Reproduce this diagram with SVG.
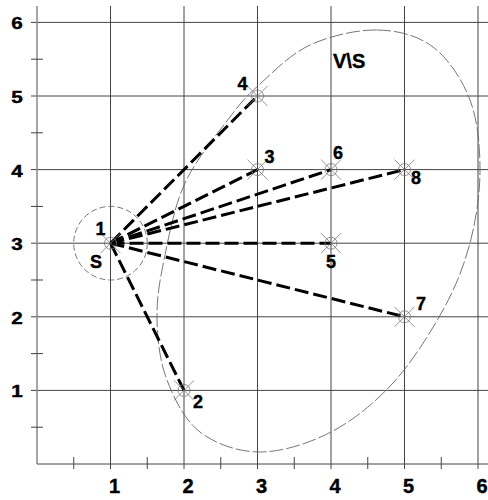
<svg xmlns="http://www.w3.org/2000/svg" xmlns:xlink="http://www.w3.org/1999/xlink" width="488" height="500" viewBox="0 0 488 500">
<style>
.grid{stroke:#444;stroke-width:1;fill:none}
.axis{stroke:#888;stroke-width:1.5;fill:none}
.mk{stroke:#777;stroke-width:0.8;fill:none}
.edge{stroke:#000;stroke-width:3;stroke-dasharray:14 5;fill:none}
.thin{stroke:#666;stroke-width:0.9;fill:none}
.lbl{font-family:"Liberation Sans",Arial,sans-serif;font-weight:bold;font-size:18px;fill:#000;stroke:#000;stroke-width:0.4}
.ax{font-family:"Liberation Sans",Arial,sans-serif;font-weight:bold;font-size:20px;fill:#000;stroke:#000;stroke-width:0.4}
.ay{font-family:"Liberation Sans",Arial,sans-serif;font-weight:bold;font-size:16.5px;fill:#000;stroke:#000;stroke-width:0.4}
</style>
<defs>
<g id="m" class="mk"><circle cx="0" cy="0" r="6"/><line x1="-10" y1="-10" x2="10" y2="10"/><line x1="-10" y1="10" x2="10" y2="-10"/></g>
</defs>
<rect width="488" height="500" fill="#fff"/>
<g id="grid">
<line class="grid" x1="31" y1="22.4" x2="488" y2="22.4"/>
<line class="grid" x1="31" y1="96" x2="488" y2="96"/>
<line class="grid" x1="31" y1="169.6" x2="488" y2="169.6"/>
<line class="grid" x1="31" y1="243.2" x2="488" y2="243.2"/>
<line class="grid" x1="31" y1="316.8" x2="488" y2="316.8"/>
<line class="grid" x1="31" y1="390.4" x2="488" y2="390.4"/>
<line class="grid" x1="110.5" y1="6" x2="110.5" y2="469"/>
<line class="grid" x1="184" y1="6" x2="184" y2="469"/>
<line class="grid" x1="257.5" y1="6" x2="257.5" y2="469"/>
<line class="grid" x1="331" y1="6" x2="331" y2="469"/>
<line class="grid" x1="404.5" y1="6" x2="404.5" y2="469"/>
<line class="grid" x1="478" y1="6" x2="478" y2="469"/>
<line class="axis" x1="37" y1="6" x2="37" y2="464"/>
<line class="grid" x1="37" y1="464" x2="488" y2="464"/>
<line class="grid" x1="73.75" y1="457" x2="73.75" y2="469"/>
<line class="grid" x1="147.25" y1="457" x2="147.25" y2="469"/>
<line class="grid" x1="220.75" y1="457" x2="220.75" y2="469"/>
<line class="grid" x1="294.25" y1="457" x2="294.25" y2="469"/>
<line class="grid" x1="367.75" y1="457" x2="367.75" y2="469"/>
<line class="grid" x1="441.25" y1="457" x2="441.25" y2="469"/>
<line class="grid" x1="31" y1="427.2" x2="43" y2="427.2"/>
<line class="grid" x1="31" y1="353.6" x2="43" y2="353.6"/>
<line class="grid" x1="31" y1="280" x2="43" y2="280"/>
<line class="grid" x1="31" y1="206.4" x2="43" y2="206.4"/>
<line class="grid" x1="31" y1="132.8" x2="43" y2="132.8"/>
<line class="grid" x1="31" y1="59.2" x2="43" y2="59.2"/>
</g>
<g id="axis-labels">
<text class="ax" x="114.5" y="493" text-anchor="middle">1</text>
<text class="ax" x="188" y="493" text-anchor="middle">2</text>
<text class="ax" x="261.5" y="493" text-anchor="middle">3</text>
<text class="ax" x="335" y="493" text-anchor="middle">4</text>
<text class="ax" x="408.5" y="493" text-anchor="middle">5</text>
<text class="ax" x="482" y="493" text-anchor="middle">6</text>
<text class="ay" transform="translate(17,397.4) scale(1.25,1)" text-anchor="middle">1</text>
<text class="ay" transform="translate(17,323.8) scale(1.25,1)" text-anchor="middle">2</text>
<text class="ay" transform="translate(17,250.2) scale(1.25,1)" text-anchor="middle">3</text>
<text class="ay" transform="translate(17,176.6) scale(1.25,1)" text-anchor="middle">4</text>
<text class="ay" transform="translate(17,103) scale(1.25,1)" text-anchor="middle">5</text>
<text class="ay" transform="translate(17,29.4) scale(1.25,1)" text-anchor="middle">6</text>
</g>
<g id="S">
<circle class="thin" cx="110.5" cy="243.2" r="36.8" stroke-dasharray="6 3"/>
<text class="lbl" x="96" y="268" text-anchor="middle">S</text>
</g>
<g id="VminusS">
<path class="thin" stroke-dasharray="14 3" d="M377,30 C397.5,30.3 417.5,35.3 433,47 C448.5,58.7 462.2,79.5 470,100 C477.8,120.5 480,146.2 480,170 C480,193.8 476.2,219.7 470,243 C463.8,266.3 455.8,286.7 443,310 C430.2,333.3 411.7,362.7 393,383 C374.3,403.3 353.2,420.5 331,432 C308.8,443.5 281.8,452 260,452 C238.2,452 215.5,444 200,432 C184.5,420 174.2,398.7 167,380 C159.8,361.3 157.5,340 157,320 C156.5,300 159.3,282.8 164,260 C168.7,237.2 174,206.8 185,183 C196,159.2 217.5,133.5 230,117 C242.5,100.5 246.7,96 260,84 C273.3,72 290.5,54 310,45 C329.5,36 356.5,29.7 377,30 Z"/>
<text class="ax" x="333" y="67.5">V\S</text>
</g>
<g id="edges">
<line class="edge" x1="110.5" y1="243.2" x2="184" y2="390.4"/>
<line class="edge" x1="110.5" y1="243.2" x2="257.5" y2="169.6"/>
<line class="edge" x1="110.5" y1="243.2" x2="257.5" y2="96"/>
<line class="edge" x1="110.5" y1="243.2" x2="331" y2="243.2"/>
<line class="edge" x1="110.5" y1="243.2" x2="331" y2="169.6"/>
<line class="edge" x1="110.5" y1="243.2" x2="404.5" y2="316.8"/>
<line class="edge" x1="110.5" y1="243.2" x2="404.5" y2="169.6"/>
</g>
<g id="n1"><use xlink:href="#m" x="110.5" y="243.2"/><text class="lbl" x="100.5" y="235" text-anchor="middle">1</text></g>
<g id="n2"><use xlink:href="#m" x="184" y="390.4"/><text class="lbl" x="193" y="408">2</text></g>
<g id="n3"><use xlink:href="#m" x="257.5" y="169.6"/><text class="lbl" x="264.5" y="163">3</text></g>
<g id="n4"><use xlink:href="#m" x="257.5" y="96"/><text class="lbl" x="237.5" y="90">4</text></g>
<g id="n5"><use xlink:href="#m" x="331" y="243.2"/><text class="lbl" x="331" y="268" text-anchor="middle">5</text></g>
<g id="n6"><use xlink:href="#m" x="331" y="169.6"/><text class="lbl" x="333" y="159">6</text></g>
<g id="n7"><use xlink:href="#m" x="404.5" y="316.8"/><text class="lbl" x="416" y="310">7</text></g>
<g id="n8"><use xlink:href="#m" x="404.5" y="169.6"/><text class="lbl" x="411" y="184">8</text></g>
</svg>
